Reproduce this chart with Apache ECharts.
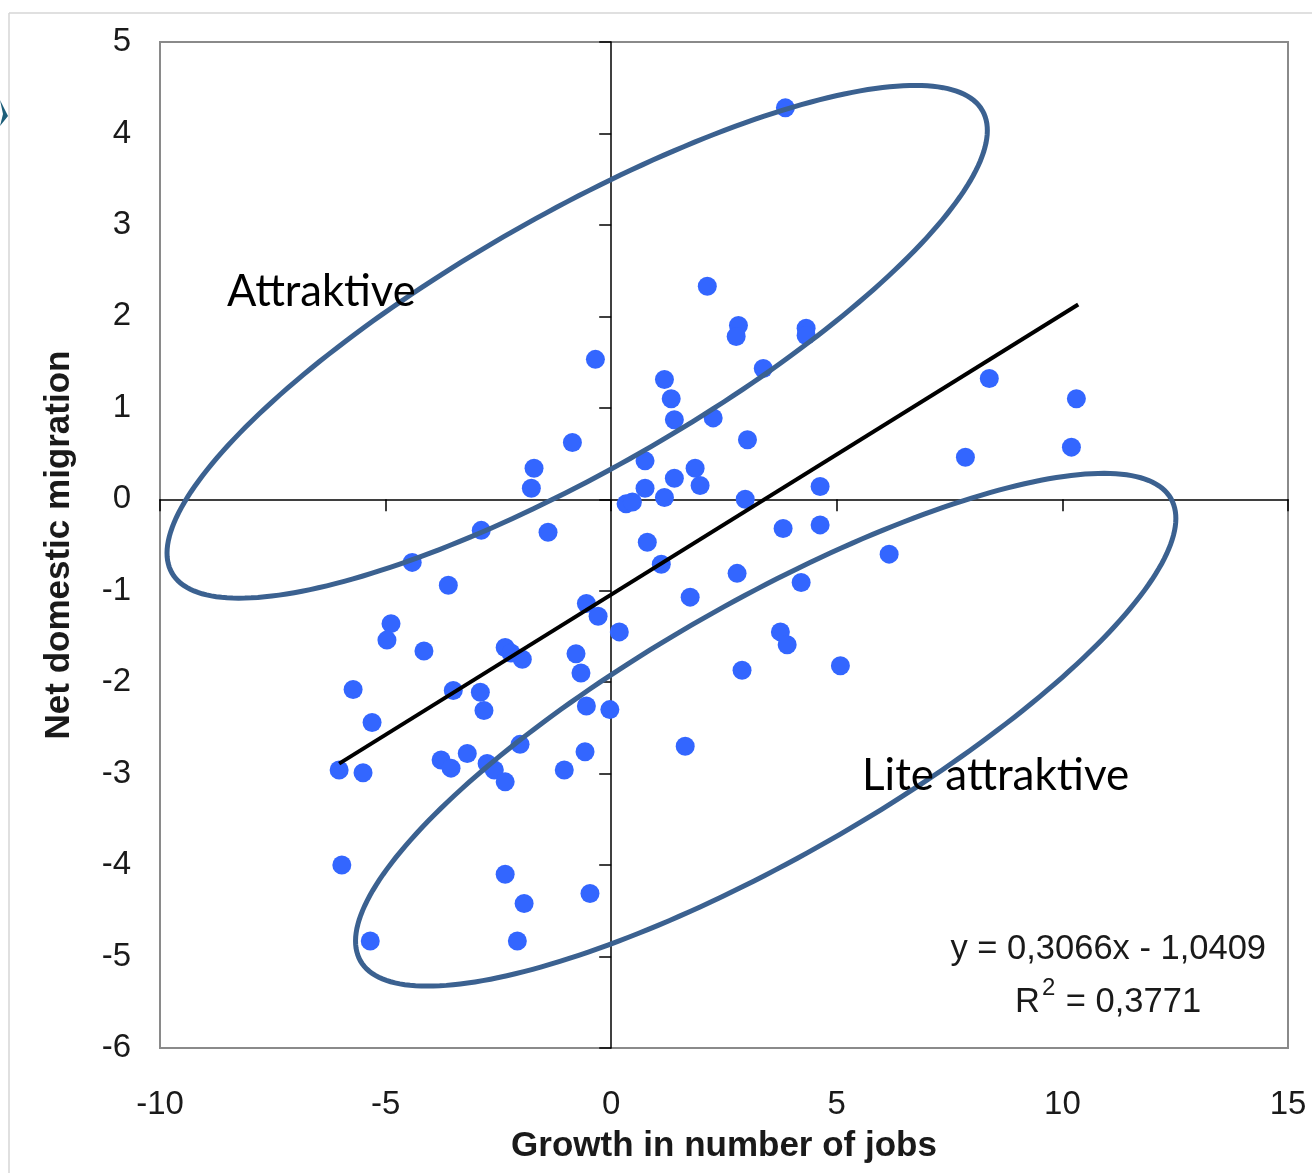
<!DOCTYPE html>
<html><head><meta charset="utf-8">
<script src="https://cdn.jsdelivr.net/npm/echarts@6/dist/echarts.min.js"></script>
<style>html,body{margin:0;padding:0;background:#fff;}#c{width:1312px;height:1173px;}</style>
</head><body><div id="c"></div>
<script>
// ---- data ----
const jobGrowth = [3.86, 2.13, 2.82, 2.77, 4.32, 4.32, -0.35, 1.18, 3.37, 1.33,
  8.38, 10.31, 1.40, 2.26, -0.86, 3.02, 10.20, 7.85, 0.75, -1.71,
  1.86, 1.40, -1.77, 0.75, 1.97, 4.63, 1.18, 2.97, 0.33, 0.47,
  -2.88, -1.40, 3.81, 4.63, 0.80, -4.41, 6.16, 1.11, 2.79, -3.61,
  4.21, 1.75, -0.55, -0.29, -4.88, -4.97, 0.18, 3.75, 3.90, -2.35,
  -2.22, -4.15, -1.97, -0.78, 5.08, -0.67, 2.90, -5.72, -3.50, -2.90,
  -2.82, -0.55, -0.03, -5.30, -2.02, -0.58, 1.64, -3.19, -3.77, -3.55,
  -2.75, -2.59, -6.03, -5.50, -1.04, -2.35, -5.97, -2.35, -1.93, -0.47,
  -5.34, -2.08];
const netMigration = [4.28, 2.33, 1.90, 1.78, 1.87, 1.79, 1.53, 1.31, 1.43, 1.10,
  1.32, 1.10, 0.87, 0.89, 0.62, 0.65, 0.57, 0.46, 0.42, 0.34,
  0.34, 0.23, 0.12, 0.12, 0.15, 0.14, 0.02, 0.00, -0.05, -0.03,
  -0.34, -0.36, -0.32, -0.28, -0.47, -0.69, -0.60, -0.71, -0.81, -0.94,
  -0.91, -1.07, -1.14, -1.28, -1.36, -1.54, -1.45, -1.45, -1.59, -1.62,
  -1.68, -1.66, -1.75, -1.69, -1.82, -1.90, -1.87, -2.08, -2.09, -2.11,
  -2.31, -2.26, -2.30, -2.44, -2.68, -2.76, -2.70, -2.78, -2.85, -2.94,
  -2.89, -2.96, -2.96, -2.99, -2.96, -3.09, -4.00, -4.10, -4.42, -4.31,
  -4.83, -4.83];
const trendX = [-6.03, 10.35];
const trendY = [-2.89, 2.13];
const xAxisTitle = 'Growth in number of jobs';
const yAxisTitle = 'Net domestic migration';
const equationText = 'y = 0,3066x - 1,0409';
const r2Parts = ['R', '2', ' = 0,3771'];
const groupLabels = ['Attraktive', 'Lite attraktive'];

// ---- annotation geometry (data units) ----
const ellipseCenters = [[-0.754, 1.722], [3.424, -2.52]];
const ellipseSemiMajor = 10.34;   // in x-units
const ellipseSemiMinor = 2.83;    // in x-units
const ellipseAngleDeg = 29.7;

const FONT = '"Liberation Sans", Arial, sans-serif';
const TXT = '#1a1a1a';

const chart = echarts.init(document.getElementById('c'), null, {renderer: 'canvas'});

const option = {
  animation: false,
  backgroundColor: '#ffffff',
  grid: {left: 160, right: 24, top: 42, bottom: 125, show: true,
    borderColor: '#8a8a8a', borderWidth: 2, backgroundColor: 'transparent'},
  xAxis: [
    {type: 'value', min: -10, max: 15, interval: 5, position: 'bottom',
      axisLine: {show: false, onZero: false}, axisTick: {show: false}, splitLine: {show: false},
      axisLabel: {fontSize: 33, color: TXT, margin: 40, fontFamily: FONT},
      name: xAxisTitle, nameLocation: 'middle', nameGap: 81,
      nameTextStyle: {fontSize: 35, fontWeight: 'bold', color: TXT, fontFamily: FONT}},
    {type: 'value', min: -10, max: 15, interval: 5, position: 'top',
      axisLine: {show: true, onZero: true, lineStyle: {color: '#000', width: 1.5}},
      axisTick: {show: true, inside: true, length: 12, lineStyle: {color: '#000', width: 1.5}},
      axisLabel: {show: false}, splitLine: {show: false}}
  ],
  yAxis: [
    {type: 'value', min: -6, max: 5, interval: 1, position: 'left',
      axisLine: {show: false, onZero: false}, axisTick: {show: false}, splitLine: {show: false},
      axisLabel: {fontSize: 33, color: TXT, margin: 29, fontFamily: FONT, padding: [6, 0, 0, 0]},
      name: yAxisTitle, nameLocation: 'middle', nameGap: 83,
      nameTextStyle: {fontSize: 35, fontWeight: 'bold', color: TXT, fontFamily: FONT}},
    {type: 'value', min: -6, max: 5, interval: 1, position: 'right',
      axisLine: {show: true, onZero: true, lineStyle: {color: '#000', width: 1.5}},
      axisTick: {show: true, inside: true, length: 12, lineStyle: {color: '#000', width: 1.5}},
      axisLabel: {show: false}, splitLine: {show: false}}
  ],
  series: [
    {type: 'scatter', xAxisIndex: 0, yAxisIndex: 0, symbolSize: 19,
      itemStyle: {color: '#3366ff', opacity: 1},
      data: jobGrowth.map((x, i) => [x, netMigration[i]]), z: 3},
    {type: 'line', xAxisIndex: 0, yAxisIndex: 0, symbol: 'none',
      lineStyle: {color: '#000', width: 4},
      data: trendX.map((x, i) => [x, trendY[i]]), z: 4}
  ]
};
chart.setOption(option);

function px(pt) { return chart.convertToPixel({seriesIndex: 0}, pt); }

const o = px([0, 0]);
const pxPerX = px([1, 0])[0] - o[0];
const a = ellipseSemiMajor * pxPerX, b = ellipseSemiMinor * pxPerX;
const phi = ellipseAngleDeg * Math.PI / 180;
const graphics = [];

ellipseCenters.forEach(c => {
  const cp = px(c);
  const pts = [];
  for (let k = 0; k < 240; k++) {
    const t = k / 240 * Math.PI * 2;
    const u = a * Math.cos(t), v = b * Math.sin(t);
    pts.push([cp[0] + u * Math.cos(phi) + v * Math.sin(phi),
              cp[1] - u * Math.sin(phi) + v * Math.cos(phi)]);
  }
  graphics.push({type: 'polygon', z: 100, shape: {points: pts},
    style: {fill: null, stroke: '#3b6190', lineWidth: 5}});
});

// group labels
graphics.push({type: 'text', z: 110, left: 227, top: 270,
  style: {text: groupLabels[0], font: '43.5px Lato, "Open Sans", sans-serif', fill: '#000'}});
graphics.push({type: 'text', z: 110, left: 862, top: 754,
  style: {text: groupLabels[1], font: '44px Lato, "Open Sans", sans-serif', fill: '#000'}});

// regression equation
graphics.push({type: 'text', z: 110, right: 1312 - 1266, top: 932,
  style: {text: equationText, font: '34.5px ' + FONT, fill: TXT, textAlign: 'right'}});
graphics.push({type: 'text', z: 110, left: 1015, top: 976,
  style: {
    text: '{n|' + r2Parts[0] + '}{s|' + r2Parts[1] + '}{n|' + r2Parts[2] + '}',
    rich: {
      n: {fontSize: 34.5, fontFamily: FONT, fill: TXT, color: TXT, lineHeight: 44, verticalAlign: 'bottom'},
      s: {fontSize: 24, fontFamily: FONT, fill: TXT, color: TXT, lineHeight: 26, verticalAlign: 'top', padding: [0, 1, 0, 2]}
    }
  }});

// slide frame lines & logo fragment
graphics.push({type: 'line', z: 1, shape: {x1: 9, y1: 13, x2: 1312, y2: 13},
  style: {stroke: '#d6d6d6', lineWidth: 1.5}});
graphics.push({type: 'line', z: 1, shape: {x1: 9, y1: 13, x2: 9, y2: 1173},
  style: {stroke: '#d6d6d6', lineWidth: 1.5}});
graphics.push({type: 'polygon', z: 1, shape: {points: [[0, 100], [8, 116], [0, 126], [3, 114]]},
  style: {fill: '#1c5d78'}});

chart.setOption({graphic: graphics});
</script>
</body></html>
